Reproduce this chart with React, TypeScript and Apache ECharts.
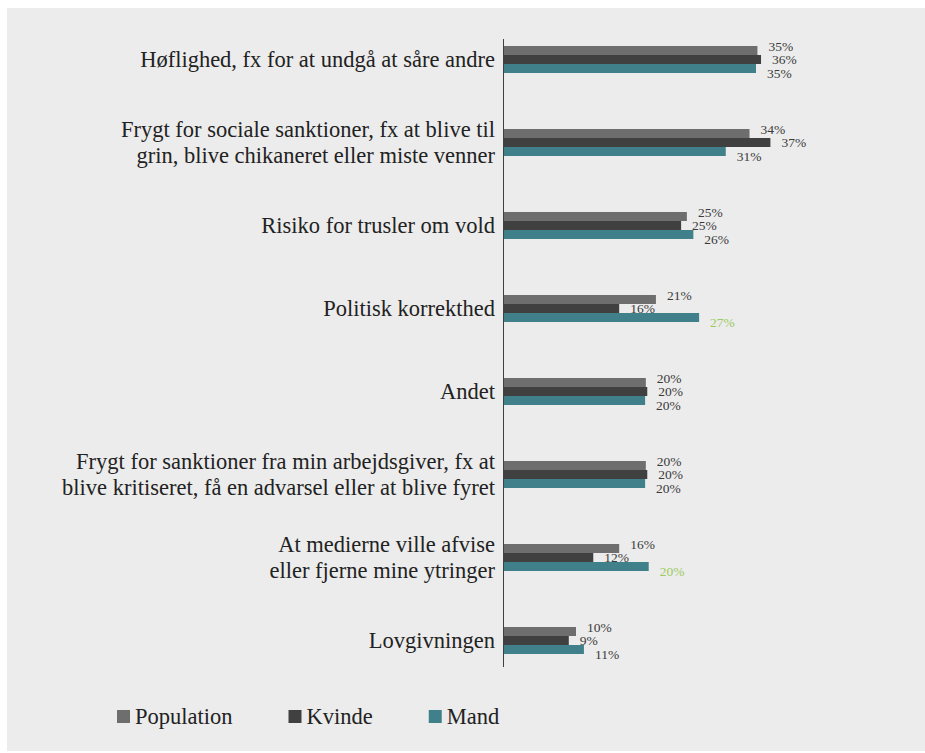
import React, { useEffect, useRef } from "react";
import * as echarts from "echarts";

const categories = [
  "Høflighed, fx for at undgå at såre andre",
  "Frygt for sociale sanktioner, fx at blive til\ngrin, blive chikaneret eller miste venner",
  "Risiko for trusler om vold",
  "Politisk korrekthed",
  "Andet",
  "Frygt for sanktioner fra min arbejdsgiver, fx at\nblive kritiseret, få en advarsel eller at blive fyret",
  "At medierne ville afvise\neller fjerne mine ytringer",
  "Lovgivningen",
];

const seriesNames = ["Population", "Kvinde", "Mand"];
const populationValues = [35.2, 34.1, 25.4, 21.1, 19.7, 19.7, 16.0, 10.0];
const kvindeValues = [35.7, 37.0, 24.6, 16.0, 19.9, 19.9, 12.4, 9.0];
const mandValues = [35.0, 30.8, 26.3, 27.1, 19.6, 19.6, 20.1, 11.1];
const mandHighlighted = [false, false, false, true, false, false, true, false];

const colors = ["#6e6e6e", "#404040", "#3f808b"];
const highlightColor = "#9bcb5e";
const FONT = "Liberation Serif";

export default function App() {
  const ref = useRef<HTMLDivElement>(null);

  useEffect(() => {
    if (!ref.current) return;
    const chart = echarts.init(ref.current, null, { renderer: "svg" });
    const labelBase = {
      show: true,
      position: "right",
      distance: 11,
      fontFamily: FONT,
      fontSize: 13.5,
      lineHeight: 12,
      color: "#3a3a3a",
      formatter: (p: any) => Math.round(p.value) + "%",
    };
    const offsets = [
      [0, -4.5],
      [0, 0],
      [0, 4.5],
    ];
    const valueSets = [populationValues, kvindeValues, mandValues];
    const series = seriesNames.map((name, i) => ({
      name,
      type: "bar",
      barWidth: 9,
      barGap: "0%",
      itemStyle: { color: colors[i] },
      label: { ...labelBase, offset: offsets[i] },
      data: valueSets[i].map((v, j) =>
        i === 2 && mandHighlighted[j]
          ? { value: v, label: { color: highlightColor } }
          : v
      ),
    }));

    chart.setOption({
      animation: false,
      backgroundColor: "#ececec",
      textStyle: { fontFamily: FONT },
      grid: { left: 497, right: 61, top: 10, bottom: 69, containLabel: false },
      xAxis: {
        type: "value",
        min: 0,
        max: 50,
        show: false,
      },
      yAxis: {
        type: "category",
        inverse: true,
        data: categories,
        axisLine: { show: false },
        axisTick: { show: false },
        splitLine: { show: false },
        axisLabel: {
          fontFamily: FONT,
          fontSize: 22.5,
          lineHeight: 26,
          color: "#222222",
          margin: 9,
          align: "right",
        },
      },
      legend: {
        left: 105,
        top: 692,
        icon: "rect",
        itemWidth: 13,
        itemHeight: 13,
        itemGap: 56,
        textStyle: { fontFamily: FONT, fontSize: 22.5, color: "#222222" },
        data: seriesNames,
      },
      graphic: [
        {
          type: "line",
          shape: { x1: 496.5, y1: 31, x2: 496.5, y2: 659 },
          style: { stroke: "#404040", lineWidth: 1 },
          z: 10,
        },
      ],
      series,
    });
    return () => chart.dispose();
  }, []);

  return (
    <div
      ref={ref}
      style={{ position: "fixed", left: 7, top: 8, width: 918, height: 743 }}
    />
  );
}
